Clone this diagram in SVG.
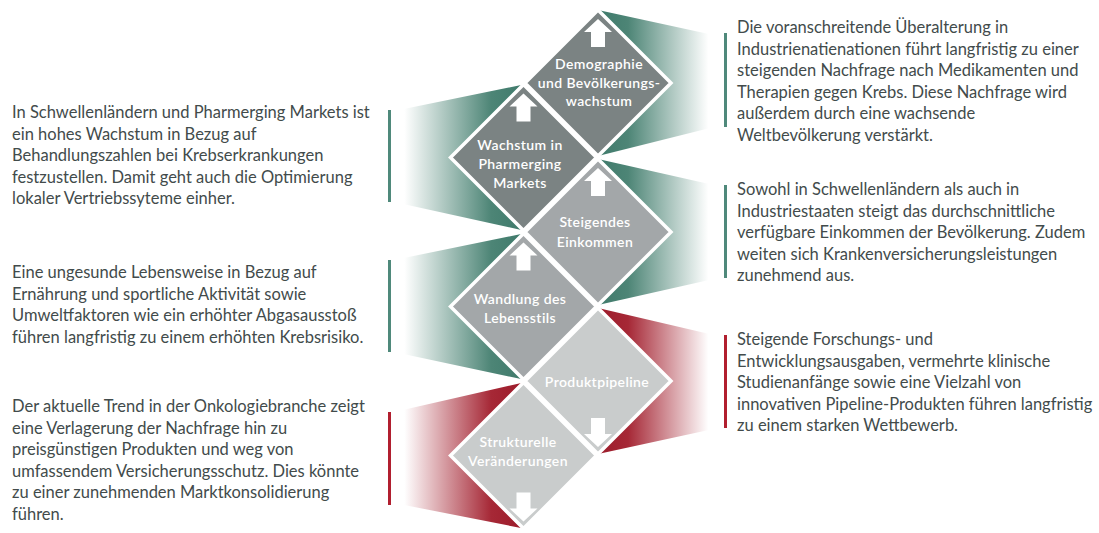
<svg xmlns="http://www.w3.org/2000/svg" width="1099" height="533" viewBox="0 0 1099 533">
  <defs>
    <style>
      .dia { stroke: #ffffff; stroke-width: 3.5; stroke-linejoin: miter; }
      .dark { fill: #7b8383; }
      .mid { fill: #a3a7a9; }
      .light { fill: #c9cccc; }
      .arrow { fill: #ffffff; }
      .lbl { font-family: Lato, "Liberation Sans", sans-serif; font-size: 14px; font-weight: 600; fill: #ffffff; text-anchor: middle; letter-spacing: 0.4px; }
      .desc { font-family: Lato, "Liberation Sans", sans-serif; font-size: 16.5px; fill: #424b4b; }
      .barG { fill: #4f897b; }
      .barR { fill: #b11f2f; }
    </style>
    <!-- diamond shape and block arrows, positioned by <use> -->
    <path id="diamond" d="M0,-73 L73,0 L0,73 L-73,0 Z"/>
    <path id="arrowUp" d="M0,-64 L14,-51 L7,-51 L7,-36 L-7,-36 L-7,-51 L-14,-51 Z"/>
    <path id="arrowDown" d="M0,66 L14,53 L7,53 L7,37 L-7,37 L-7,53 L-14,53 Z"/>
    <!-- fan gradients: solid colour at the diamond, fading to white toward the bar -->
    <linearGradient id="fanGreenR" x1="0" y1="0" x2="1" y2="0">
      <stop offset="0" stop-color="#3f7a6b"/>
      <stop offset="0.25" stop-color="#4d8576"/>
      <stop offset="0.92" stop-color="#ffffff"/>
    </linearGradient>
    <linearGradient id="fanGreenL" x1="1" y1="0" x2="0" y2="0">
      <stop offset="0" stop-color="#3f7a6b"/>
      <stop offset="0.25" stop-color="#4d8576"/>
      <stop offset="0.92" stop-color="#ffffff"/>
    </linearGradient>
    <linearGradient id="fanRedR" x1="0" y1="0" x2="1" y2="0">
      <stop offset="0" stop-color="#9c1b2a"/>
      <stop offset="0.25" stop-color="#a62836"/>
      <stop offset="0.92" stop-color="#ffffff"/>
    </linearGradient>
    <linearGradient id="fanRedL" x1="1" y1="0" x2="0" y2="0">
      <stop offset="0" stop-color="#9c1b2a"/>
      <stop offset="0.25" stop-color="#a62836"/>
      <stop offset="0.92" stop-color="#ffffff"/>
    </linearGradient>
  </defs>

  <rect width="1099" height="533" fill="#ffffff"/>

  <!-- connectors: gradient fans from each diamond to its text bar -->
  <g id="connectors">
    <polygon points="598,10 718,36 718,126 598,156" fill="url(#fanGreenR)"/>
    <polygon points="598,159 718,186 718,278 598,305" fill="url(#fanGreenR)"/>
    <polygon points="598,308 718,336 718,428 598,454" fill="url(#fanRedR)"/>
    <polygon points="523.5,84.5 394,111 394,202 523.5,230.5" fill="url(#fanGreenL)"/>
    <polygon points="523.5,233.5 394,260 394,352 523.5,379.5" fill="url(#fanGreenL)"/>
    <polygon points="523.5,382.5 394,412 394,503 523.5,528.5" fill="url(#fanRedL)"/>
    <rect class="barG" x="724" y="33" width="3" height="94"/>
    <rect class="barG" x="724" y="185" width="3" height="93"/>
    <rect class="barR" x="724" y="335" width="3" height="93"/>
    <rect class="barG" x="388" y="110" width="3" height="92"/>
    <rect class="barG" x="388" y="260" width="3" height="92"/>
    <rect class="barR" x="388" y="412" width="3" height="93"/>
  </g>

  <!-- diamonds -->
  <g id="node-demographie" transform="translate(598,83)">
    <use href="#diamond" class="dia dark"/>
    <use href="#arrowUp" class="arrow"/>
  </g>
  <g id="node-wachstum" transform="translate(523.5,157.5)">
    <use href="#diamond" class="dia dark"/>
    <use href="#arrowUp" class="arrow"/>
  </g>
  <g id="node-einkommen" transform="translate(598,232)">
    <use href="#diamond" class="dia mid"/>
    <use href="#arrowUp" class="arrow"/>
  </g>
  <g id="node-lebensstil" transform="translate(523.5,306.5)">
    <use href="#diamond" class="dia mid"/>
    <use href="#arrowUp" class="arrow"/>
  </g>
  <g id="node-produktpipeline" transform="translate(598,381)">
    <use href="#diamond" class="dia light"/>
    <use href="#arrowDown" class="arrow"/>
  </g>
  <g id="node-strukturell" transform="translate(523.5,455.5)">
    <use href="#diamond" class="dia light"/>
    <use href="#arrowDown" class="arrow"/>
  </g>

  <!-- diamond labels -->
  <g id="labels">
    <text class="lbl" x="599" y="69">Demographie</text>
    <text class="lbl" x="599" y="88">und Bevölkerungs-</text>
    <text class="lbl" x="599" y="106">wachstum</text>
    <text class="lbl" x="520" y="150">Wachstum in</text>
    <text class="lbl" x="520" y="169">Pharmerging</text>
    <text class="lbl" x="520" y="188">Markets</text>
    <text class="lbl" x="595" y="227">Steigendes</text>
    <text class="lbl" x="595" y="247">Einkommen</text>
    <text class="lbl" x="520" y="304">Wandlung des</text>
    <text class="lbl" x="520" y="323">Lebensstils</text>
    <text class="lbl" x="597" y="387">Produktpipeline</text>
    <text class="lbl" x="518" y="447">Strukturelle</text>
    <text class="lbl" x="518" y="466">Veränderungen</text>
  </g>

  <!-- description texts -->
  <g id="text-demographie" class="desc">
    <text x="737" y="33">Die voranschreitende Überalterung in</text>
    <text x="737" y="54.5">Industrienatienationen führt langfristig zu einer</text>
    <text x="737" y="76">steigenden Nachfrage nach Medikamenten und</text>
    <text x="737" y="97.5">Therapien gegen Krebs. Diese Nachfrage wird</text>
    <text x="737" y="119">außerdem durch eine wachsende</text>
    <text x="737" y="140.5">Weltbevölkerung verstärkt.</text>
  </g>
  <g id="text-einkommen" class="desc">
    <text x="737" y="195">Sowohl in Schwellenländern als auch in</text>
    <text x="737" y="216.5">Industriestaaten steigt das durchschnittliche</text>
    <text x="737" y="238">verfügbare Einkommen der Bevölkerung. Zudem</text>
    <text x="737" y="259.5">weiten sich Krankenversicherungsleistungen</text>
    <text x="737" y="281">zunehmend aus.</text>
  </g>
  <g id="text-produktpipeline" class="desc">
    <text x="737" y="345">Steigende Forschungs- und</text>
    <text x="737" y="366.5">Entwicklungsausgaben, vermehrte klinische</text>
    <text x="737" y="388">Studienanfänge sowie eine Vielzahl von</text>
    <text x="737" y="409.5">innovativen Pipeline-Produkten führen langfristig</text>
    <text x="737" y="431">zu einem starken Wettbewerb.</text>
  </g>
  <g id="text-wachstum" class="desc">
    <text x="12" y="118">In Schwellenländern und Pharmerging Markets ist</text>
    <text x="12" y="139.5">ein hohes Wachstum in Bezug auf</text>
    <text x="12" y="161">Behandlungszahlen bei Krebserkrankungen</text>
    <text x="12" y="182.5">festzustellen. Damit geht auch die Optimierung</text>
    <text x="12" y="204">lokaler Vertriebssyteme einher.</text>
  </g>
  <g id="text-lebensstil" class="desc">
    <text x="12" y="278">Eine ungesunde Lebensweise in Bezug auf</text>
    <text x="12" y="299.5">Ernährung und sportliche Aktivität sowie</text>
    <text x="12" y="321">Umweltfaktoren wie ein  erhöhter Abgasausstoß</text>
    <text x="12" y="342.5">führen langfristig zu einem  erhöhten Krebsrisiko.</text>
  </g>
  <g id="text-strukturell" class="desc">
    <text x="12" y="412">Der aktuelle Trend in der Onkologiebranche zeigt</text>
    <text x="12" y="433.5">eine Verlagerung der Nachfrage hin zu</text>
    <text x="12" y="455">preisgünstigen Produkten und weg von</text>
    <text x="12" y="476.5">umfassendem Versicherungsschutz. Dies könnte</text>
    <text x="12" y="498">zu einer zunehmenden Marktkonsolidierung</text>
    <text x="12" y="519.5">führen.</text>
  </g>
</svg>
